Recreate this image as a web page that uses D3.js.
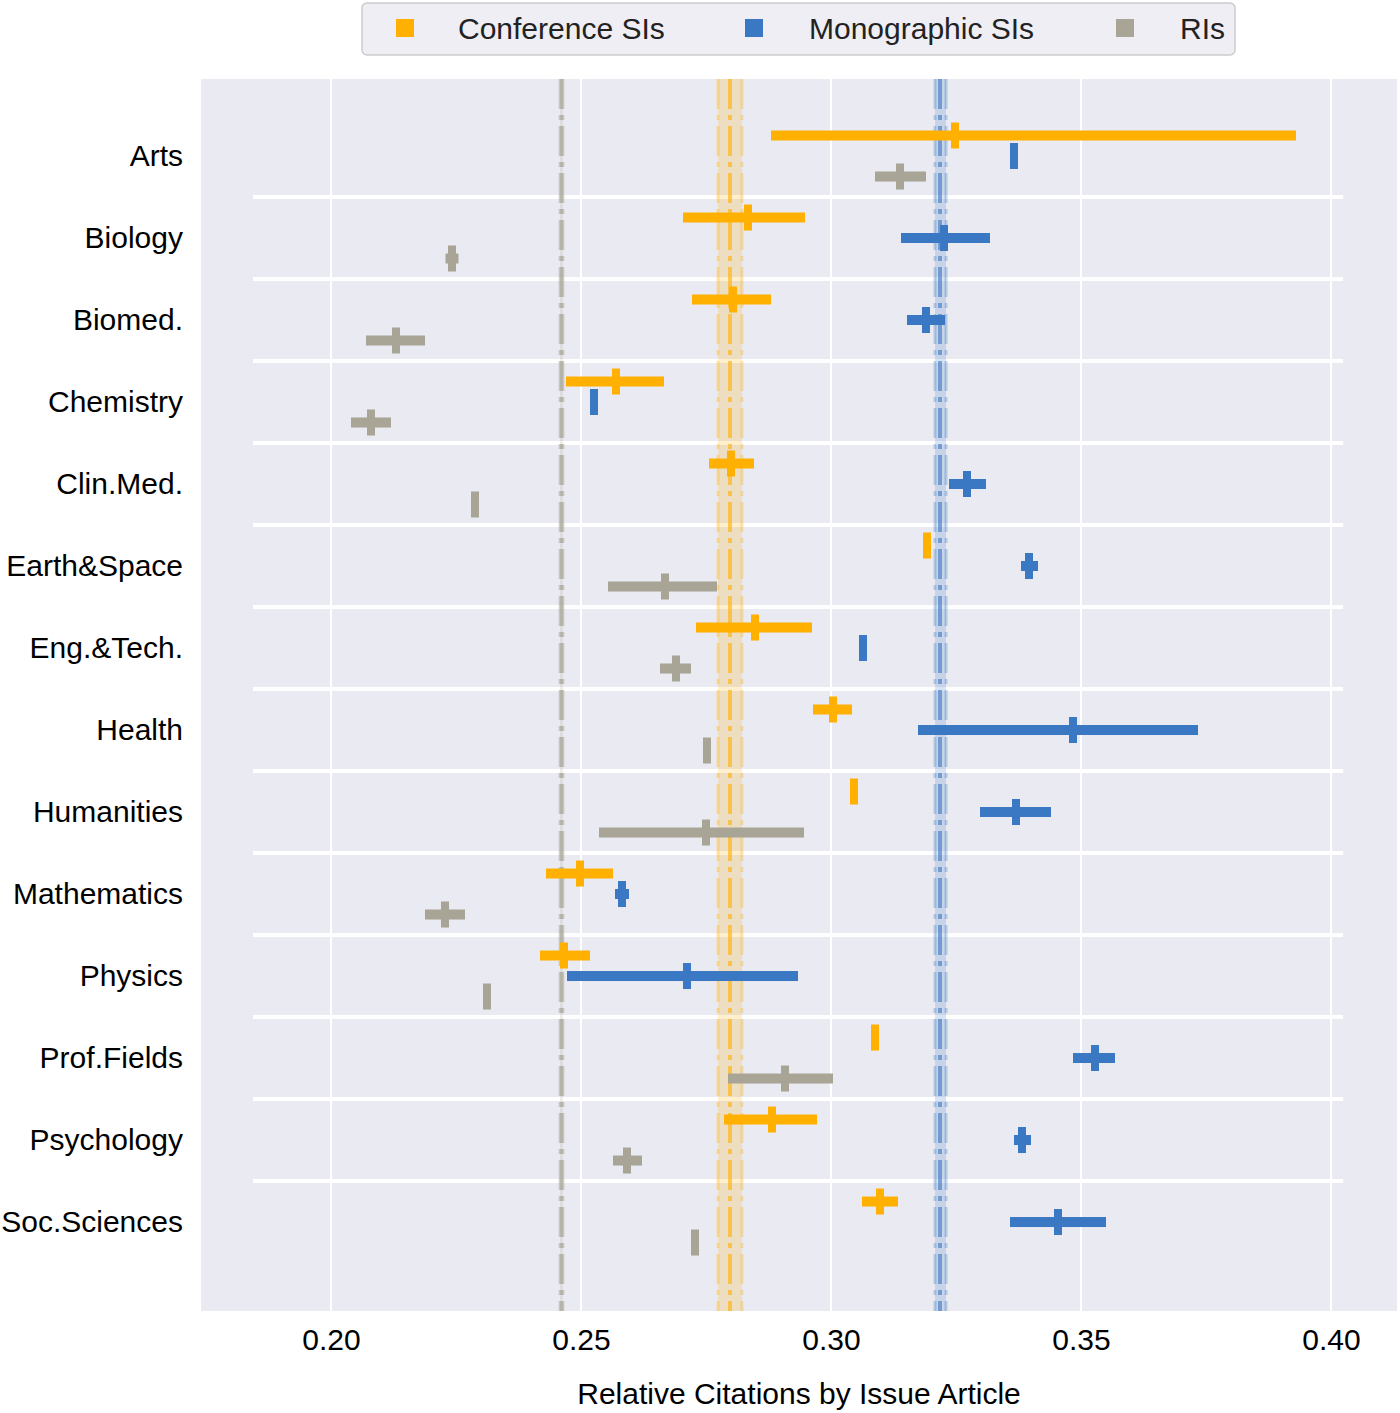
<!DOCTYPE html>
<html><head><meta charset="utf-8">
<script src="https://cdn.jsdelivr.net/npm/d3@7"></script>
<style>body{margin:0;background:#fff;} svg{display:block;}</style>
</head><body><svg id="chart" width="1400" height="1413"></svg>
<script>
const categories = ["Arts","Biology","Biomed.","Chemistry","Clin.Med.","Earth&Space","Eng.&Tech.","Health","Humanities","Mathematics","Physics","Prof.Fields","Psychology","Soc.Sciences"];
const seriesNames = ["Conference SIs","Monographic SIs","RIs"];
const seriesColors = ["#ffb000","#3a78c3","#a8a496"];

const confMean = [0.3248,0.2834,0.2804,0.2570,0.2800,0.3192,0.2848,0.3004,0.3046,0.2498,0.2466,0.3088,0.2882,0.3098];
const confLo   = [0.2880,0.2704,0.2722,0.2470,0.2756,0.3188,0.2730,0.2964,0.3044,0.2430,0.2418,0.3084,0.2786,0.3062];
const confHi   = [0.3930,0.2948,0.2880,0.2666,0.2846,0.3196,0.2962,0.3042,0.3048,0.2564,0.2518,0.3092,0.2972,0.3134];

const monoMean = [0.3366,0.3226,0.3190,0.2526,0.3272,0.3396,0.3064,0.3484,0.3370,0.2582,0.2712,0.3528,0.3382,0.3454];
const monoLo   = [0.3366,0.3140,0.3152,0.2520,0.3236,0.3380,0.3064,0.3174,0.3298,0.2568,0.2472,0.3484,0.3366,0.3358];
const monoHi   = [0.3366,0.3318,0.3228,0.2532,0.3310,0.3414,0.3064,0.3734,0.3440,0.2596,0.2934,0.3568,0.3400,0.3550];

const riMean = [0.3138,0.2242,0.2130,0.2080,0.2288,0.2668,0.2690,0.2752,0.2750,0.2228,0.2312,0.2908,0.2592,0.2728];
const riLo   = [0.3088,0.2229,0.2070,0.2040,0.2285,0.2554,0.2658,0.2748,0.2536,0.2188,0.2308,0.2794,0.2564,0.2725];
const riHi   = [0.3190,0.2255,0.2188,0.2120,0.2291,0.2772,0.2720,0.2756,0.2946,0.2268,0.2316,0.3004,0.2622,0.2731];

const refMean = [0.2798,0.3218,0.2461];
const refLo   = [0.2774,0.3208,0.2458];
const refHi   = [0.2822,0.3230,0.2464];

const xTicks = [0.20,0.25,0.30,0.35,0.40];
const xTitle = "Relative Citations by Issue Article";

const svg = d3.select("#chart");
const FONT = "'Liberation Sans', Arial, Helvetica, sans-serif";
const FS = 30;
const plot = {left:201, right:1397, top:79, bottom:1311};

const x = d3.scaleLinear().domain([0.174,0.4132]).range([plot.left, plot.right]);
const y = d3.scaleLinear().domain([-0.939,14.085]).range([plot.top, plot.bottom]);
const offsets = [-0.25, 0, 0.25];

svg.append("rect").attr("x",plot.left).attr("y",plot.top)
  .attr("width",plot.right-plot.left).attr("height",plot.bottom-plot.top).attr("fill","#eaeaf2");

// vertical grid
svg.append("g").selectAll("line").data(xTicks).join("line")
  .attr("x1",d=>x(d)).attr("x2",d=>x(d)).attr("y1",plot.top).attr("y2",plot.bottom)
  .attr("stroke","#fff").attr("stroke-width",2);

// x axis tick labels
const xAxis = d3.axisBottom(x).tickValues(xTicks).tickFormat(d3.format(".2f")).tickSize(0).tickPadding(18);
const gx = svg.append("g").attr("transform",`translate(0,${plot.bottom})`).call(xAxis);
gx.select(".domain").remove();
gx.selectAll("text").attr("font-family",FONT).attr("font-size",FS).attr("fill","#000");

// y axis labels
const yAxis = d3.axisLeft(y).tickValues(d3.range(categories.length)).tickFormat(i=>categories[i]).tickSize(0).tickPadding(18);
const gy = svg.append("g").attr("transform",`translate(${plot.left},0)`).call(yAxis);
gy.select(".domain").remove();
gy.selectAll("text").attr("font-family",FONT).attr("font-size",FS).attr("fill","#000");

// separators
const sepX1 = plot.left + 0.0435*(plot.right-plot.left), sepX2 = plot.left + 0.955*(plot.right-plot.left);
svg.append("g").selectAll("line").data(d3.range(categories.length-1)).join("line")
  .attr("x1",sepX1).attr("x2",sepX2).attr("y1",i=>y(i+0.5)).attr("y2",i=>y(i+0.5))
  .attr("stroke","#fff").attr("stroke-width",4);

// reference bands and lines
const refG = svg.append("g");
refMean.forEach((m,k)=>{
  refG.append("rect").attr("x",x(refLo[k])).attr("width",x(refHi[k])-x(refLo[k]))
    .attr("y",plot.top).attr("height",plot.bottom-plot.top)
    .attr("fill",seriesColors[k]).attr("opacity",0.2);
  [refLo[k],refHi[k]].forEach(v=>{
    refG.append("line").attr("x1",x(v)).attr("x2",x(v)).attr("y1",plot.top).attr("y2",plot.bottom)
      .attr("stroke",seriesColors[k]).attr("stroke-width",3).attr("opacity",0.3)
      .attr("stroke-dasharray","30,6,5,6");
  });
  refG.append("line").attr("x1",x(m)).attr("x2",x(m)).attr("y1",plot.top).attr("y2",plot.bottom)
    .attr("stroke",seriesColors[k]).attr("stroke-width",4).attr("opacity",0.6)
    .attr("stroke-dasharray","30,6,5,6");
});

// error bars
const series = [
  {mean:confMean, lo:confLo, hi:confHi},
  {mean:monoMean, lo:monoLo, hi:monoHi},
  {mean:riMean, lo:riLo, hi:riHi}
];
series.forEach((s,k)=>{
  const g = svg.append("g");
  const data = categories.map((c,i)=>({i, m:s.mean[i], lo:s.lo[i], hi:s.hi[i]}));
  g.selectAll("rect.bar").data(data).join("rect").attr("class","bar")
    .attr("x",d=>x(d.lo)).attr("width",d=>Math.max(0,x(d.hi)-x(d.lo)))
    .attr("y",d=>y(d.i+offsets[k])-5).attr("height",10)
    .attr("fill",seriesColors[k]);
  g.selectAll("rect.tick").data(data).join("rect").attr("class","tick")
    .attr("x",d=>x(d.m)-4).attr("width",8)
    .attr("y",d=>y(d.i+offsets[k])-13).attr("height",26)
    .attr("fill",seriesColors[k]);
});

// x title
svg.append("text").attr("x",(plot.left+plot.right)/2).attr("y",1404)
  .attr("text-anchor","middle").attr("font-family",FONT).attr("font-size",FS).attr("fill","#000")
  .text(xTitle);

// legend
const lg = svg.append("g");
lg.append("rect").attr("x",362).attr("y",3).attr("width",873).attr("height",52).attr("rx",5)
  .attr("fill","#eeeef4").attr("stroke","#cccccc").attr("stroke-width",1.5);
const legX = [396,745,1116];
const legTX = [458,809,1180];
seriesNames.forEach((n,k)=>{
  lg.append("rect").attr("x",legX[k]).attr("y",19).attr("width",18).attr("height",18).attr("fill",seriesColors[k]);
  lg.append("text").attr("x",legTX[k]).attr("y",39).attr("font-family",FONT).attr("font-size",FS)
    .attr("fill","#222").text(n);
});
</script></body></html>
